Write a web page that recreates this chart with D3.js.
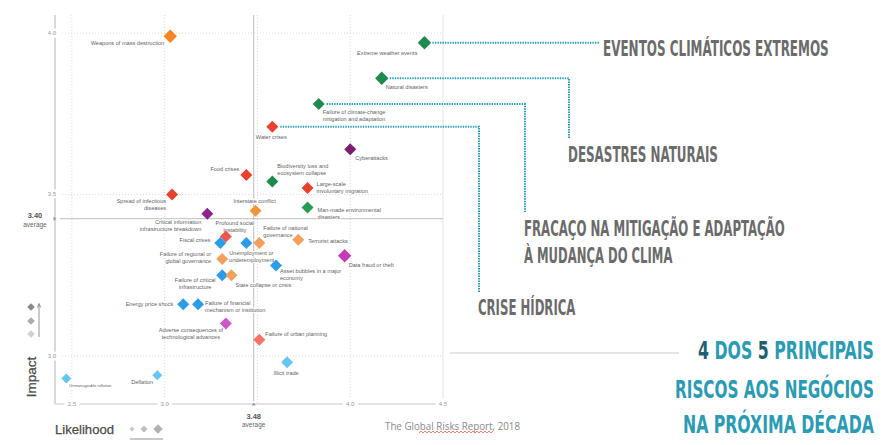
<!DOCTYPE html>
<html><head><meta charset="utf-8">
<script src="https://cdn.jsdelivr.net/npm/d3@7"></script>
<style>body{margin:0;background:#fff}svg{display:block}</style>
</head><body>
<svg id="c" width="883" height="445"></svg>
<script>
// ---------- DATA ----------
const risks = [
  "Weapons of mass destruction","Extreme weather events","Natural disasters",
  "Failure of climate-change|mitigation and adaptation","Water crises","Cyberattacks",
  "Food crises","Biodiversity loss and|ecosystem collapse","Large-scale|involuntary migration",
  "Man-made environmental|disasters","Spread of infectious|diseases","Interstate conflict",
  "Critical information|infrastructure breakdown","Profound social|instability","Fiscal crises",
  "Unemployment or|underemployment","Failure of national|governance","Terrorist attacks",
  "Data fraud or theft","Failure of regional or|global governance","Asset bubbles in a major|economy",
  "Failure of critical|infrastructure","State collapse or crisis","Energy price shock",
  "Failure of financial|mechanism or institution","Adverse consequences of|technological advances",
  "Failure of urban planning","Illicit trade","Deflation","Unmanageable inflation"
];
const likelihood = [3.03,4.40,4.17,3.83,3.58,4.00,3.44,3.58,3.77,3.77,3.04,3.49,3.23,3.33,3.30,
  3.44,3.51,3.72,3.97,3.31,3.60,3.31,3.36,3.10,3.18,3.33,3.51,3.66,2.96,2.47];
const impact = [3.99,3.97,3.86,3.78,3.71,3.64,3.56,3.54,3.52,3.46,3.50,3.45,3.44,3.37,3.35,
  3.35,3.35,3.36,3.31,3.30,3.28,3.25,3.25,3.16,3.16,3.10,3.05,2.98,2.94,2.93];
const group = ["geo1","env1","env1","env1","soc1","tech1","soc1","env1","soc1","env2","soc1","geo2",
  "tech2","soc2","econ1","econ1","geo3","geo3","tech3","geo3","econ1","econ1","geo3","econ1","econ1",
  "tech4","soc3","econ2","econ2","econ2"];
const xTicks = ["2.5","3.0","4.0","4.5"];
const yTicks = ["3.0","3.5","4.0"];
const gridX = [2.5,3.0,3.5,4.0];
const gridY = [3.0,3.5,4.0];
const avgLikelihood = 3.48, avgLikelihoodLabel = "3.48";
const avgImpact = 3.425, avgImpactLabel = "3.40";
const highlighted = [1,2,3,4];
const highlightText = [["EVENTOS CLIMÁTICOS EXTREMOS"],["DESASTRES NATURAIS"],
  ["FRACAÇO NA MITIGAÇÃO E ADAPTAÇÃO","À MUDANÇA DO CLIMA"],["CRISE HÍDRICA"]];
const headline = [[["4",1],[" DOS ",0],["5",1],[" PRINCIPAIS",0]],[["RISCOS AOS NEGÓCIOS",0]],[["NA PRÓXIMA DÉCADA",0]]];
const source = "The Global Risks Report, 2018";

// ---------- LAYOUT / STYLE ----------
const colors = d3.scaleOrdinal()
  .domain(["env1","env2","soc1","soc2","soc3","geo1","geo2","geo3","tech1","tech2","tech3","tech4","econ1","econ2"])
  .range(["#1e8a4e","#2a9a57","#e8412e","#f0564c","#f4736a","#f5861f","#f29437","#f3a05c","#7a1e6e","#8c2589","#c43cb2","#cd58c6","#2b9de6","#66c6f2"]);
// label placement: [dx, dy(first baseline), anchor]
const labelPos = [[-6,9,"end"],[-7,12,"end"],[4,11,"start"],[4,10,"start"],[-1,12,"middle"],[5,11,"start"],
  [-7,-4,"end"],[5,-14,"start"],[9,-2,"start"],[10,5,"start"],[-6,9,"end"],[-1,-8,"middle"],
  [-6,10,"end"],[9,-11,"middle"],[-10,-1,"end"],[-17,12,"start"],[4,-13,"start"],[10,3,"start"],
  [4,11,"start"],[-11,-3,"end"],[4,7,"start"],[-27,7,"middle"],[4,12,"start"],[-10,2,"end"],
  [7,1,"start"],[-35,8,"middle"],[6,-4,"start"],[-1,13,"middle"],[-4,9,"end"],[3,9,"start"]];
const callout = [
  {elbowX:600, endY:null, textX:603, base:[56], w:[226]},
  {elbowX:569, endY:138, textX:568, base:[162], w:[150]},
  {elbowX:525, endY:212, textX:524, base:[236,263], w:[261,149]},
  {elbowX:479, endY:292, textX:478, base:[315], w:[98]}
];
const condensed = "Liberation Sans Narrow, DejaVu Sans Condensed, Roboto, sans-serif";

const svg = d3.select("#c");
const x = d3.scaleLinear().domain([2.409, 4.5]).range([55, 443]);
const y = d3.scaleLinear().domain([2.851, 4.056]).range([404, 15]);
const [yTop, yBot] = [y.range()[1], y.range()[0]];
const [xL, xR] = x.range();

// fit a text group horizontally to a target width, positioned at (x0, base), anchored left or right
function fitText(g, x0, base, width, anchorRight) {
  const w0 = g.node().getBBox().width;
  const s = width / w0;
  const tx = anchorRight ? x0 - width : x0;
  g.attr("transform", `translate(${tx},${base}) scale(${s},1)`);
}

// grid
svg.append("g").selectAll("line").data(gridX).join("line")
  .attr("x1", d=>x(d)).attr("x2", d=>x(d)).attr("y1", yTop).attr("y2", yBot)
  .attr("stroke","#cfcfcf").attr("stroke-width",0.8).attr("stroke-dasharray","1 2");
svg.append("g").selectAll("line").data(gridY).join("line")
  .attr("x1", xL+7).attr("x2", xR).attr("y1", d=>y(d)).attr("y2", d=>y(d))
  .attr("stroke","#cfcfcf").attr("stroke-width",0.8).attr("stroke-dasharray","1 2");

// frame
svg.append("line").attr("x1",xL).attr("x2",xL).attr("y1",yTop).attr("y2",yBot).attr("stroke","#d9d9d9").attr("stroke-width",2);
svg.append("line").attr("x1",xL).attr("x2",xR).attr("y1",yBot).attr("y2",yBot).attr("stroke","#d9d9d9").attr("stroke-width",1.5);
svg.append("line").attr("x1",xR).attr("x2",xR).attr("y1",yTop).attr("y2",yBot).attr("stroke","#e3e3e3").attr("stroke-width",1);

// averages
svg.append("line").attr("x1",x(avgLikelihood)).attr("x2",x(avgLikelihood)).attr("y1",yTop).attr("y2",yBot-3)
  .attr("stroke","#bdbdbd").attr("stroke-width",1);
svg.append("line").attr("x1",xL+5).attr("x2",xR).attr("y1",y(avgImpact)).attr("y2",y(avgImpact))
  .attr("stroke","#bdbdbd").attr("stroke-width",1);
svg.append("path").attr("d",`M${xL-1.5},${y(avgImpact)-2}L${xL+1.5},${y(avgImpact)}L${xL-1.5},${y(avgImpact)+2}Z`).attr("fill","#999");
svg.append("path").attr("d",`M${x(avgLikelihood)-2},${yBot+1.5}L${x(avgLikelihood)},${yBot-1.5}L${x(avgLikelihood)+2},${yBot+1.5}Z`).attr("fill","#999");

const halo = s => s.attr("stroke","#fff").attr("paint-order","stroke").attr("stroke-linejoin","round");
// tick labels
svg.append("g").selectAll("text").data(xTicks).join("text")
  .attr("x", d=>x(+d)).attr("y", yBot+2).attr("text-anchor","middle")
  .attr("font-family","Liberation Sans, Arial, sans-serif").attr("font-size",6).attr("fill","#999")
  .text(d=>d).call(halo).attr("stroke-width",7);
svg.append("g").selectAll("text").data(yTicks).join("text")
  .attr("x", xL-3).attr("y", d=>y(+d)+2).attr("text-anchor","middle")
  .attr("font-family","Liberation Sans, Arial, sans-serif").attr("font-size",6).attr("fill","#999")
  .text(d=>d).call(halo).attr("stroke-width",5);

// average labels
svg.append("text").attr("x",x(avgLikelihood)).attr("y",yBot+15).attr("text-anchor","middle")
  .attr("font-family","Liberation Sans, Arial, sans-serif").attr("font-size",7.5).attr("font-weight","bold").attr("fill","#555").text(avgLikelihoodLabel);
svg.append("text").attr("x",x(avgLikelihood)).attr("y",yBot+23).attr("text-anchor","middle")
  .attr("font-family","Liberation Sans, Arial, sans-serif").attr("font-size",6.5).attr("fill","#666").text("average");
svg.append("text").attr("x",35).attr("y",y(avgImpact)-0.5).attr("text-anchor","middle")
  .attr("font-family","Liberation Sans, Arial, sans-serif").attr("font-size",7.5).attr("font-weight","bold").attr("fill","#555").text(avgImpactLabel);
svg.append("text").attr("x",35).attr("y",y(avgImpact)+8).attr("text-anchor","middle")
  .attr("font-family","Liberation Sans, Arial, sans-serif").attr("font-size",6.5).attr("fill","#666").text("average");

const pts = risks.map((r,i)=>({name:r, l:likelihood[i], v:impact[i], g:group[i], lp:labelPos[i], i}));

// connectors + callout texts
const hl = svg.append("g");
highlighted.forEach((idx,k)=>{
  const p = pts[idx], c = callout[k];
  let d = `M${x(p.l)+8},${y(p.v)}H${c.elbowX}`;
  if (c.endY!==null) d += `V${c.endY}`;
  hl.append("path").attr("d",d).attr("fill","none").attr("stroke","#2a9cb5")
    .attr("stroke-width",2).attr("stroke-dasharray","1.4 1.1");
  highlightText[k].forEach((t,j)=>{
    const g = hl.append("g");
    g.append("text").attr("x",0).attr("y",0)
      .attr("font-family",condensed).attr("font-weight","bold").attr("font-size",20.5).attr("fill","#6b6b6b").text(t);
    fitText(g, c.textX, c.base[j], c.w[j], false);
  });
});

// point labels
const lab = svg.append("g").attr("font-family","Liberation Sans, Arial, sans-serif").attr("fill","#5f5f5f");
pts.forEach(p=>{
  const lines = p.name.split("|");
  const fs = p.i===29 ? 4 : 5.6;
  const t = lab.append("text").attr("font-size",fs).attr("text-anchor",p.lp[2])
    .call(halo).attr("stroke-width",2);
  lines.forEach((ln,j)=>{
    t.append("tspan").attr("x",x(p.l)+p.lp[0]).attr("y",y(p.v)+p.lp[1]+j*7).text(ln);
  });
});

// diamonds
const sym = d3.symbol().type(d3.symbolSquare);
svg.append("g").selectAll("path").data(pts).join("path")
  .attr("transform",d=>`translate(${x(d.l)},${y(d.v)}) rotate(45)`)
  .attr("d",d=> sym.size(d.i<=2||d.i===18 ? 90 : (d.i>=28 ? 50 : 72))())
  .attr("fill",d=>colors(d.g));

// legend: impact
svg.append("text").attr("transform","translate(35.5,377) rotate(-90)").attr("text-anchor","middle")
  .attr("font-family","Liberation Sans, Arial, sans-serif").attr("font-size",13.5).attr("fill","#4a4a4a")
  .attr("stroke","#4a4a4a").attr("stroke-width",0.25).text("Impact");
const legImpact = [["#8a8a8a",307],["#ababab",321],["#d0d0d0",334]];
svg.append("g").selectAll("path").data(legImpact).join("path")
  .attr("transform",d=>`translate(31,${d[1]}) rotate(45)`).attr("d",sym.size(30)()).attr("fill",d=>d[0]);
svg.append("line").attr("x1",39).attr("x2",39).attr("y1",337).attr("y2",305).attr("stroke","#777").attr("stroke-width",0.8);
svg.append("path").attr("d","M37.3,307.5L39,303.5L40.7,307.5").attr("fill","none").attr("stroke","#777").attr("stroke-width",0.8);

// legend: likelihood
svg.append("text").attr("x",55).attr("y",434)
  .attr("font-family","Liberation Sans, Arial, sans-serif").attr("font-size",13.5).attr("fill","#4a4a4a")
  .attr("stroke","#4a4a4a").attr("stroke-width",0.25).attr("textLength",59).attr("lengthAdjust","spacingAndGlyphs").text("Likelihood");
const legL = [[132,12,"#c8c8c8"],[144,24,"#bdbdbd"],[158,44,"#b0b0b0"]];
svg.append("g").selectAll("path").data(legL).join("path")
  .attr("transform",d=>`translate(${d[0]},429) rotate(45)`).attr("d",d=>sym.size(d[1])()).attr("fill",d=>d[2]);
svg.append("line").attr("x1",130).attr("x2",163).attr("y1",439).attr("y2",439).attr("stroke","#777").attr("stroke-width",0.8);

// source
svg.append("text").attr("x",385).attr("y",430).attr("font-family","Open Sans, Liberation Sans, sans-serif")
  .attr("font-size",11).attr("fill","#8a8a8a").attr("textLength",135).attr("lengthAdjust","spacingAndGlyphs").text(source);
const sq = d3.range(419, 494, 2).map((v,i)=>[v, 432 + (i%2 ? -0.9 : 0.9)]);
svg.append("path").attr("d",d3.line()(sq)).attr("fill","none").attr("stroke","#e0403a").attr("stroke-width",0.7);

// separator + headline
svg.append("line").attr("x1",450).attr("x2",679).attr("y1",353).attr("y2",353).attr("stroke","#dcdcdc").attr("stroke-width",1.5);
const hBase = [359,398,433], hW = [176,199,191];
headline.forEach((parts,j)=>{
  const g = svg.append("g");
  const t = g.append("text").attr("x",0).attr("y",0)
    .attr("font-family",condensed).attr("font-weight","bold").attr("font-size",24.5);
  parts.forEach(pt=> t.append("tspan").attr("fill", pt[1] ? "#1d5f70" : "#2a9bb2").text(pt[0]));
  fitText(g, 874, hBase[j], hW[j], true);
});
</script>
</body></html>
